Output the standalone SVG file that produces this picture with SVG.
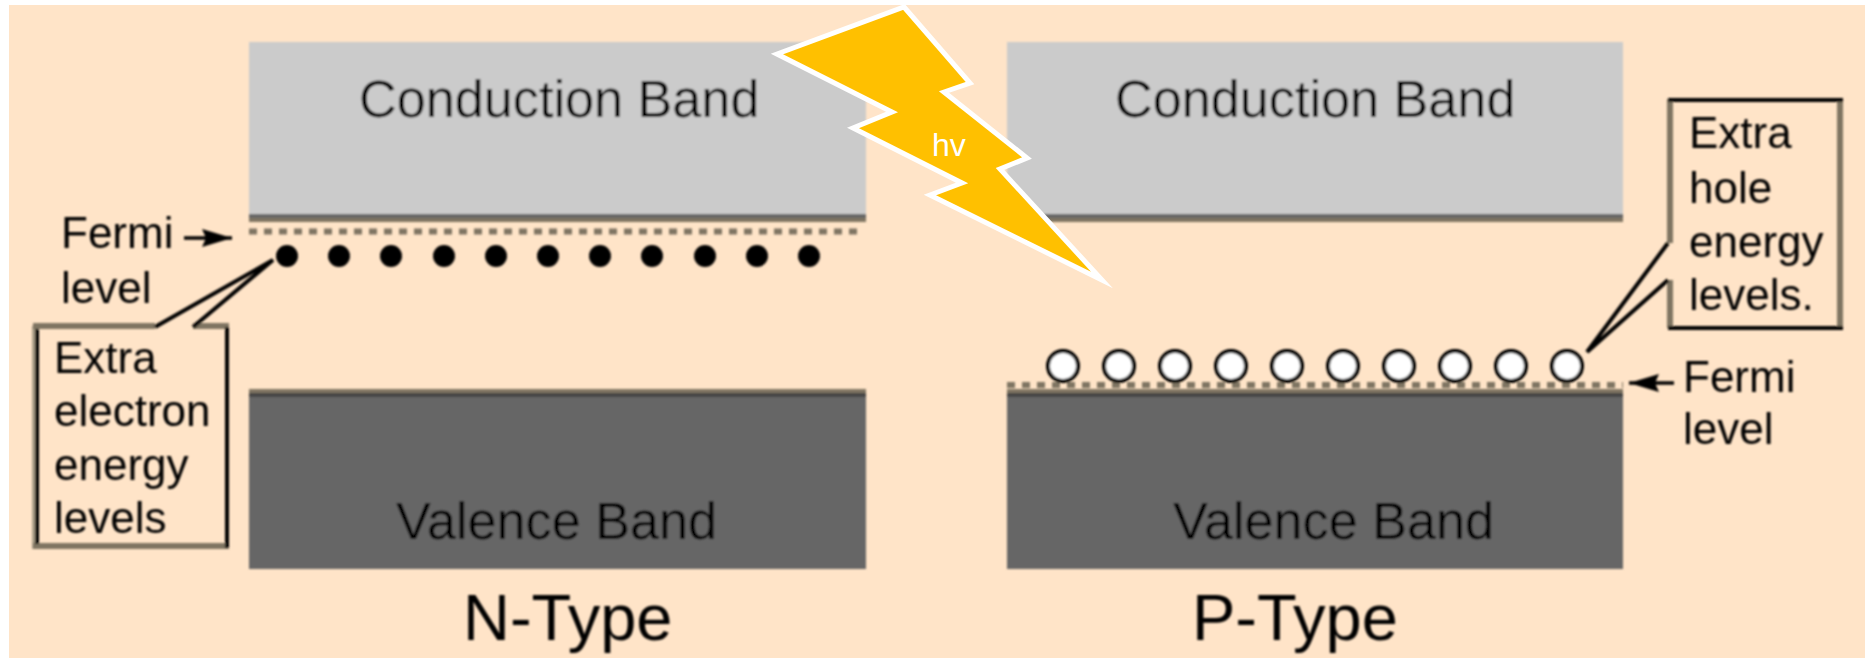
<svg xmlns="http://www.w3.org/2000/svg" width="1865" height="658" viewBox="0 0 1865 658">
<style>
text{font-family:"Liberation Sans",Arial,sans-serif;fill:#000}
.lab{font-size:44px}
.band{font-size:52.2px}
.title{font-size:65px}
.cond{fill:#cbcbcb}
.val{fill:#666}
.edge{fill:#7f7562}
.dark{fill:#666}
.box{fill:none;stroke:#000;stroke-width:4}
.shade{fill:none;stroke:#7f7562;stroke-width:6}
.shade-left{fill:none;stroke:#a89c86;stroke-width:4}
.leader{fill:none;stroke:#000;stroke-width:3.5}
.el{fill:#000}
.hole{fill:#fff;stroke:#000;stroke-width:4}
.fermi{stroke:#7f7562;stroke-width:6;stroke-dasharray:8 7;fill:none}
</style>
<defs>
<marker id="ah" markerUnits="userSpaceOnUse" markerWidth="32" markerHeight="20" refX="30" refY="10" orient="auto"><path d="M0 1L30 10L0 19L4 10Z" fill="#000"/></marker>
<filter id="soft" x="-5%" y="-5%" width="110%" height="110%"><feGaussianBlur stdDeviation="0.8"/></filter>
</defs>
<rect width="1865" height="658" fill="#fff"/>
<rect id="background" x="9" y="5" width="1856" height="653" fill="#ffe4c8"/>
<g filter="url(#soft)">
<g id="n-conduction"><rect class="cond" x="249" y="42" width="617" height="172"/><rect class="dark" x="249" y="214" width="617" height="4"/><rect class="edge" x="249" y="218" width="617" height="4"/><text class="band" x="359" y="117">Conduction Band</text></g>
<g id="n-valence"><rect class="edge" x="249" y="389" width="617" height="4"/><rect fill="#444" x="249" y="393" width="617" height="4"/><rect class="val" x="249" y="397" width="617" height="172"/><text class="band" x="396" y="539">Valence Band</text></g>
<g id="p-conduction"><rect class="cond" x="1007" y="42" width="616" height="172"/><rect class="dark" x="1007" y="214" width="616" height="4"/><rect class="edge" x="1007" y="218" width="616" height="4"/><text class="band" x="1115" y="117">Conduction Band</text></g>
<g id="p-valence"><rect class="edge" x="1007" y="389" width="616" height="4"/><rect fill="#444" x="1007" y="393" width="616" height="4"/><rect class="val" x="1007" y="397" width="616" height="172"/><text class="band" x="1173" y="539">Valence Band</text></g>
<g id="n-fermi-line"><path class="fermi" d="M249 231.5H858"/></g>
<g id="p-fermi-line"><path class="fermi" d="M1007 385H1623"/></g>
<g id="electrons">
<circle class="el" cx="287" cy="256" r="11"/><circle class="el" cx="339" cy="256" r="11"/><circle class="el" cx="391" cy="256" r="11"/><circle class="el" cx="444" cy="256" r="11"/><circle class="el" cx="496" cy="256" r="11"/><circle class="el" cx="548" cy="256" r="11"/><circle class="el" cx="600" cy="256" r="11"/><circle class="el" cx="652" cy="256" r="11"/><circle class="el" cx="705" cy="256" r="11"/><circle class="el" cx="757" cy="256" r="11"/><circle class="el" cx="809" cy="256" r="11"/>
</g>
<g id="holes">
<circle class="hole" cx="1063" cy="366" r="15"/><circle class="hole" cx="1119" cy="366" r="15"/><circle class="hole" cx="1175" cy="366" r="15"/><circle class="hole" cx="1231" cy="366" r="15"/><circle class="hole" cx="1287" cy="366" r="15"/><circle class="hole" cx="1343" cy="366" r="15"/><circle class="hole" cx="1399" cy="366" r="15"/><circle class="hole" cx="1455" cy="366" r="15"/><circle class="hole" cx="1511" cy="366" r="15"/><circle class="hole" cx="1567" cy="366" r="15"/>
</g>
<g id="connectors">
<path class="leader" d="M184 238H232" marker-end="url(#ah)"/>
<path class="leader" d="M1674 383H1629" marker-end="url(#ah)"/>
</g>
<g id="n-fermi-label"><text class="lab" x="61" y="248">Fermi</text><text class="lab" x="61" y="303">level</text></g>
<g id="n-callout">
<path class="shade-left" d="M34 326V549"/>
<path class="shade" d="M33 326H155M193 326H229M33 546H229"/>
<path class="box" d="M155 327L273 260L193 327M227 327V548M37 329V544"/>
<text class="lab" x="54" y="373">Extra</text><text class="lab" x="54" y="426">electron</text><text class="lab" x="54" y="480">energy</text><text class="lab" x="54" y="533">levels</text>
</g>
<g id="p-callout">
<path class="shade" d="M1670 99V243M1670 280V328M1840 99V330"/>
<path class="box" d="M1668 100H1843M1668 328H1843M1668 243L1587 352L1668 280"/>
<text class="lab" x="1689" y="148">Extra</text><text class="lab" x="1689" y="203">hole</text><text class="lab" x="1689" y="257">energy</text><text class="lab" x="1689" y="310">levels.</text>
</g>
<g id="p-fermi-label"><text class="lab" x="1683" y="392">Fermi</text><text class="lab" x="1683" y="444">level</text></g>
<text class="title" x="463" y="640">N-Type</text>
<text class="title" x="1192" y="640">P-Type</text>
</g>
<g id="lightning"><polygon points="904,7 970,83 944,92 1027,158 1000,169 1102,280 930,195 962,183 853,128 892,112 777,54" fill="#ffc000" stroke="#fff" stroke-width="5" stroke-miterlimit="20"/><text x="932" y="156" font-size="32" style="fill:#fff">hv</text></g>
</svg>
